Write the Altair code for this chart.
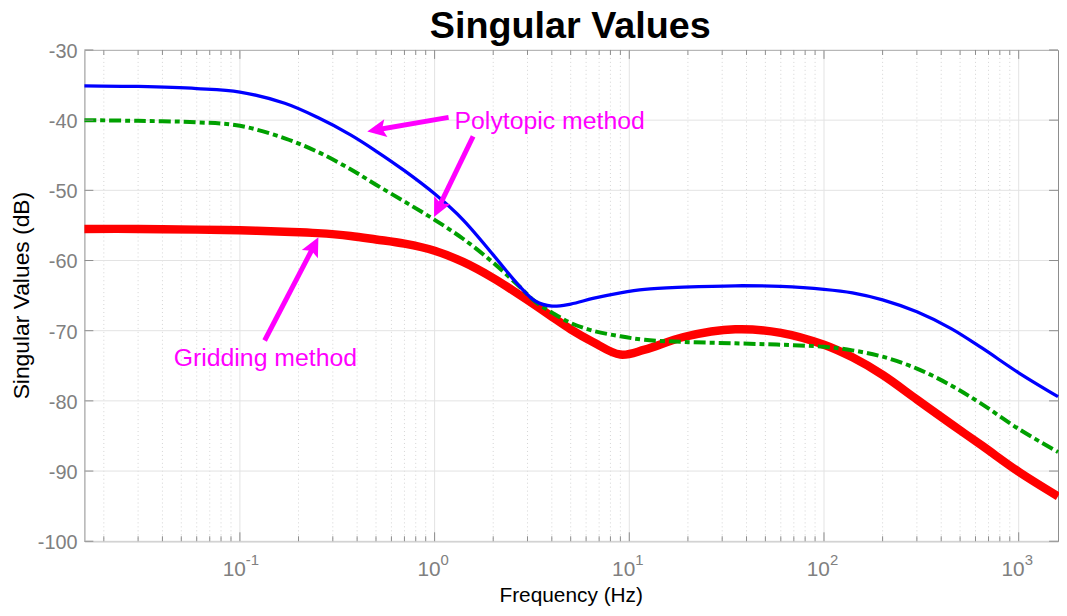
import altair as alt
import pandas as pd
import numpy as np

# ---------------- data ----------------
freq = [0.0159, 0.03, 0.06, 0.1, 0.17, 0.25, 0.37, 0.5, 0.7, 1.0, 1.4, 2.0, 2.7, 3.3, 4.0,
        5.0, 6.5, 9.0, 12.0, 19.0, 35.0, 60.0, 100.0, 140.0, 200.0, 300.0, 450.0, 650.0, 1000.0, 1592.0]
blue = [-35.1, -35.2, -35.5, -36.0, -37.6, -39.6, -42.1, -44.4, -47.2, -50.5, -54.2, -59.2, -63.5, -65.8, -66.5,
        -66.2, -65.4, -64.6, -64.1, -63.8, -63.6, -63.7, -64.1, -64.6, -65.6, -67.3, -69.7, -72.5, -76.0, -79.4]
green = [-40.0, -40.1, -40.3, -40.8, -42.6, -44.5, -47.0, -49.2, -51.6, -54.2, -56.9, -60.3, -63.6, -65.9, -67.4,
         -68.9, -70.0, -70.8, -71.3, -71.6, -71.8, -72.0, -72.3, -72.8, -73.7, -75.4, -77.8, -80.5, -84.0, -87.3]
red = [-55.5, -55.5, -55.6, -55.7, -55.9, -56.1, -56.5, -57.0, -57.6, -58.6, -60.2, -62.5, -64.8, -66.4, -68.0,
       -69.8, -71.6, -73.4, -72.7, -70.9, -69.8, -70.3, -72.0, -73.8, -76.3, -79.8, -83.3, -86.4, -90.1, -93.6]

y_ticks = [-100, -90, -80, -70, -60, -50, -40, -30]
y_labels = ["-100", "-90", "-80", "-70", "-60", "-50", "-40", "-30"]
x_major = [0.1, 1, 10, 100, 1000]
x_base = ["10", "10", "10", "10", "10"]
x_exp = ["-1", "0", "1", "2", "3"]
x_minor = [m * 10.0 ** k for k in range(-2, 3) for m in range(2, 10)]

ann_text = ["Polytopic method", "Gridding method"]
ann_f = [1.266, 0.0457]
ann_db = [-41.2, -75.0]

arrow_tail_f = [1.18, 1.577, 0.134]
arrow_tail_db = [-39.6, -42.3, -71.4]
arrow_tip_f = [0.451, 0.993, 0.253]
arrow_tip_db = [-41.6, -53.8, -56.7]
arrow_angle = [260, 206, 27]

title_text = ["Singular Values"]
x_title = ["Frequency (Hz)"]
y_title = ["Singular Values (dB)"]

# ---------------- layout / style ----------------
W, H = 981, 495
FONT = "Liberation Sans"
GRAY = "#808080"
TICK = "#8c8c8c"
MAG = "#ff00ff"

xscale = alt.Scale(type="log", domain=[0.0159, 1592], nice=False)
yscale = alt.Scale(domain=[-100, -30], nice=False, zero=False)


def X(field):
    return alt.X(field, type="quantitative", scale=xscale, axis=None)


def Y(field):
    return alt.Y(field, type="quantitative", scale=yscale, axis=None)


curves = pd.DataFrame({"f": freq, "blue": blue, "green": green, "red": red})

# grid
minor_grid = alt.Chart(pd.DataFrame({"m": x_minor})).mark_rule(
    color="#d4d4d4", strokeDash=[1, 3], strokeWidth=1).encode(x=X("m"))
major_vgrid = alt.Chart(pd.DataFrame({"M": x_major})).mark_rule(
    color="#e3e3e3", strokeWidth=1).encode(x=X("M"))
hgrid = alt.Chart(pd.DataFrame({"v": y_ticks})).mark_rule(
    color="#e3e3e3", strokeWidth=1).encode(y=Y("v"))

# curves
INTERP = "catmull-rom"
red_line = alt.Chart(curves).mark_line(color="#ff0000", strokeWidth=8.5, interpolate=INTERP).encode(
    x=X("f"), y=Y("red"))
green_line = alt.Chart(curves).mark_line(color="#00a000", strokeWidth=4, strokeDash=[12, 4, 5, 4],
                                         interpolate=INTERP).encode(x=X("f"), y=Y("green"))
blue_line = alt.Chart(curves).mark_line(color="#0000ff", strokeWidth=3.3, interpolate=INTERP).encode(
    x=X("f"), y=Y("blue"))

# inward tick marks
xmaj = pd.DataFrame({"t": x_major})
xmin = pd.DataFrame({"t": x_minor})
ydf = pd.DataFrame({"t": y_ticks, "lab": y_labels})
tick_layers = []
for df, ln in ((xmaj, 9), (xmin, 5)):
    tick_layers.append(alt.Chart(df).mark_rule(color=TICK).encode(
        x=X("t"), y=alt.value(H), y2=alt.value(H - ln)))
    tick_layers.append(alt.Chart(df).mark_rule(color=TICK).encode(
        x=X("t"), y=alt.value(0), y2=alt.value(ln)))
tick_layers.append(alt.Chart(ydf).mark_rule(color=TICK).encode(
    y=Y("t"), x=alt.value(0), x2=alt.value(9)))
tick_layers.append(alt.Chart(ydf).mark_rule(color=TICK).encode(
    y=Y("t"), x=alt.value(W), x2=alt.value(W - 9)))

# y tick labels
ylab = alt.Chart(ydf).mark_text(align="right", baseline="middle", dx=-7, dy=2, fontSize=20,
                                color=GRAY, font=FONT).encode(
    y=Y("t"), x=alt.value(0), text="lab:N")

# x tick labels 10^k
xl = pd.DataFrame({"t": x_major, "base": x_base, "exp": x_exp})
xbase = alt.Chart(xl).mark_text(align="right", baseline="alphabetic", dx=6, fontSize=21,
                                color=GRAY, font=FONT).encode(
    x=X("t"), y=alt.value(530), text="base:N")
xexp = alt.Chart(xl).mark_text(align="left", baseline="alphabetic", dx=6, fontSize=15,
                               color=GRAY, font=FONT).encode(
    x=X("t"), y=alt.value(519), text="exp:N")

# axis titles
xtitle = alt.Chart(pd.DataFrame({"t": x_title})).mark_text(
    fontSize=21, align="center", baseline="alphabetic", color="black", font=FONT).encode(
    text="t:N", x=alt.value(W / 2), y=alt.value(61 + H))
ytitle = alt.Chart(pd.DataFrame({"t": y_title})).mark_text(
    fontSize=23, align="center", baseline="alphabetic", angle=270, color="black", font=FONT).encode(
    text="t:N", x=alt.value(-56), y=alt.value(H / 2))

# annotations
ann = pd.DataFrame({"txt": ann_text, "f": ann_f, "db": ann_db})
ann_txt = alt.Chart(ann).mark_text(align="left", baseline="alphabetic", fontSize=25, color=MAG,
                                   font=FONT).encode(x=X("f"), y=Y("db"), text="txt:N")

lt = np.log10(arrow_tail_f)
lp = np.log10(arrow_tip_f)
frac = 0.88
arr = pd.DataFrame({
    "tf": arrow_tail_f, "tdb": arrow_tail_db,
    "ef": 10 ** (lt + frac * (lp - lt)),
    "edb": np.array(arrow_tail_db) + frac * (np.array(arrow_tip_db) - np.array(arrow_tail_db)),
    "pf": arrow_tip_f, "pdb": arrow_tip_db, "ang": arrow_angle})
shaft = alt.Chart(arr).mark_rule(color=MAG, strokeWidth=5, strokeCap="butt").encode(
    x=X("tf"), x2="ef:Q", y=Y("tdb"), y2="edb:Q")
head = alt.Chart(arr).mark_point(shape="M0,0 L0.48,1 L0,0.8 L-0.48,1 Z", filled=True, color=MAG,
                                 opacity=1, size=1444, strokeWidth=0).encode(
    x=X("pf"), y=Y("pdb"), angle=alt.Angle("ang:Q", scale=None))

# title
title = alt.Chart(pd.DataFrame({"t": title_text})).mark_text(
    fontSize=38, fontWeight="bold", align="center", baseline="alphabetic", color="black", font=FONT).encode(
    text="t:N", x=alt.value(W / 2 - 1), y=alt.value(-12))

chart = alt.layer(
    minor_grid, major_vgrid, hgrid, red_line, green_line, blue_line, *tick_layers,
    ylab, xbase, xexp, xtitle, ytitle, shaft, head, ann_txt, title
).properties(
    width=W, height=H,
    autosize=alt.AutoSizeParams(type="none"),
    padding={"left": 77, "top": 40, "right": 1, "bottom": 68},
).configure(
    font=FONT,
    view=alt.ViewConfig(stroke=TICK, strokeWidth=1),
)

chart.save("out.html", embed_options={"renderer": "svg", "actions": False})
